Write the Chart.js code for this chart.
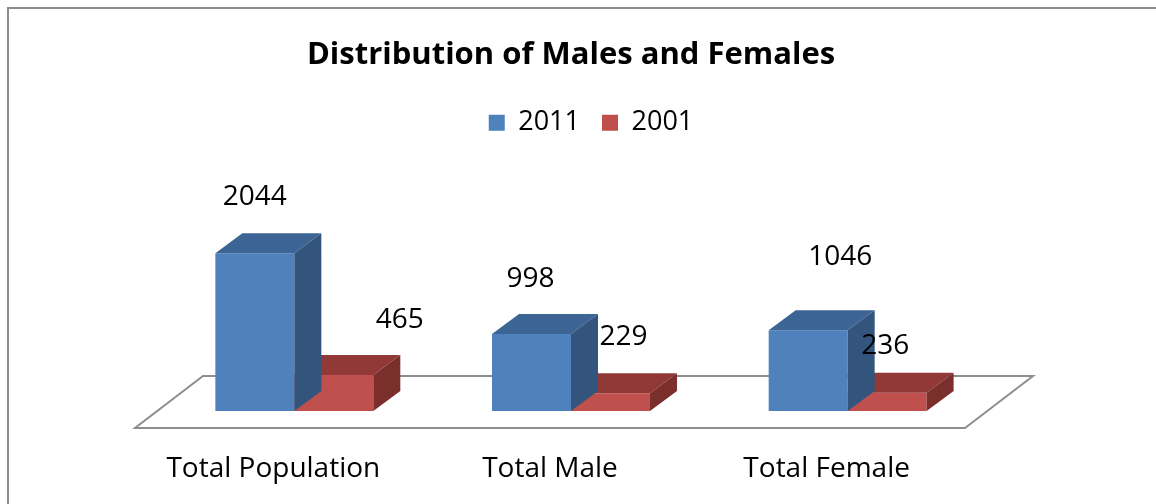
<!DOCTYPE html>
<html>
<head>
<meta charset="utf-8">
<script src="https://cdn.jsdelivr.net/npm/chart.js@4.4.1/dist/chart.umd.min.js"></script>
<style>
  body { margin: 0; background: #fff; }
  #wrap { position: relative; width: 1156px; height: 504px; overflow: hidden; background: #fff; }
  #frame { position: absolute; left: 7px; top: 7px; width: 1300px; height: 700px; border: 2px solid #8c8c8c; }
  #chart { position: absolute; left: 0; top: 0; }
</style>
</head>
<body>
<div id="wrap">
  <div id="frame"></div>
  <canvas id="chart" width="1156" height="504"></canvas>
</div>
<script>
// DATA
var categories = ["Total Population", "Total Male", "Total Female"];
var seriesNames = ["2011", "2001"];
var values2011 = [2044, 998, 1046];
var values2001 = [465, 229, 236];

var frontColors = ["#4F81BD", "#C0504D"];
var topColors = ["#3C6494", "#913937"];
var sideColors = ["#32547D", "#7B2F2D"];

// 3D depth of the boxes, in px
var depthX = 27, depthY = -20;

// where each value label sits, relative to the top centre of its bar front
var labelShift = [
  [[0, -56], [-1, -55], [32, -73]],
  [[66, -55], [13, -56], [-2, -47]]
];

var FONT = "'Open Sans'";

// floor under the bars
var floorPlugin = {
  id: "floor",
  beforeDatasetsDraw: function (chart) {
    var ctx = chart.ctx;
    var area = chart.chartArea;
    var y0 = chart.scales.y.getPixelForValue(0);
    ctx.save();
    ctx.beginPath();
    ctx.moveTo(area.left - 21, y0 + 17);
    ctx.lineTo(area.right - 21, y0 + 17);
    ctx.lineTo(area.right + 47, y0 - 35);
    ctx.lineTo(area.left + 47, y0 - 35);
    ctx.closePath();
    ctx.fillStyle = "#ffffff";
    ctx.fill();
    ctx.lineWidth = 2;
    ctx.strokeStyle = "#8e8e8e";
    ctx.stroke();
    ctx.restore();
  }
};

// top and side faces of each box
var boxPlugin = {
  id: "box3d",
  afterDatasetDraw: function (chart, args) {
    var ctx = chart.ctx;
    var i = args.index;
    var meta = chart.getDatasetMeta(i);
    ctx.save();
    meta.data.forEach(function (bar) {
      var p = bar.getProps(["x", "y", "base", "width"], true);
      var l = p.x - p.width / 2, r = p.x + p.width / 2;
      ctx.fillStyle = topColors[i];
      ctx.beginPath();
      ctx.moveTo(l, p.y);
      ctx.lineTo(l + depthX, p.y + depthY);
      ctx.lineTo(r + depthX, p.y + depthY);
      ctx.lineTo(r, p.y);
      ctx.closePath();
      ctx.fill();
      ctx.fillStyle = sideColors[i];
      ctx.beginPath();
      ctx.moveTo(r, p.y);
      ctx.lineTo(r + depthX, p.y + depthY);
      ctx.lineTo(r + depthX, p.base + depthY);
      ctx.lineTo(r, p.base);
      ctx.closePath();
      ctx.fill();
    });
    ctx.restore();
  }
};

// value labels
var valuePlugin = {
  id: "values",
  afterDraw: function (chart) {
    var ctx = chart.ctx;
    ctx.save();
    ctx.font = "28px " + FONT;
    ctx.fillStyle = "#000";
    ctx.textAlign = "center";
    ctx.textBaseline = "middle";
    chart.data.datasets.forEach(function (ds, i) {
      chart.getDatasetMeta(i).data.forEach(function (bar, j) {
        var s = labelShift[i][j];
        ctx.fillText(String(ds.data[j]), bar.x + s[0], bar.y + s[1]);
      });
    });
    ctx.restore();
  }
};

var hiddenAxis = function (pos, w) {
  return {
    position: pos,
    display: true,
    min: 0,
    max: 3432,
    ticks: { display: false },
    grid: { display: false },
    border: { display: false },
    afterFit: function (scale) { scale.width = w; }
  };
};

var ctx = document.getElementById("chart").getContext("2d");
var myChart = new Chart(ctx, {
  type: "bar",
  data: {
    labels: categories,
    datasets: [
      {
        label: seriesNames[0],
        data: values2011,
        backgroundColor: frontColors[0],
        borderWidth: 0,
        barPercentage: 1,
        categoryPercentage: 0.571,
        yAxisID: "y"
      },
      {
        label: seriesNames[1],
        data: values2001,
        backgroundColor: frontColors[1],
        borderWidth: 0,
        barPercentage: 1,
        categoryPercentage: 0.571,
        yAxisID: "y"
      }
    ]
  },
  options: {
    responsive: false,
    animation: false,
    layout: {
      padding: { left: 36, right: 10, top: 0, bottom: 0 }
    },
    plugins: {
      title: {
        display: true,
        text: "Distribution of Males and Females",
        fullSize: false,
        color: "#000",
        font: { family: FONT, size: 31, weight: "bold" },
        padding: { top: 37, bottom: 13 }
      },
      legend: {
        display: true,
        position: "top",
        fullSize: true,
        labels: {
          color: "#000",
          font: { family: FONT, size: 27 },
          boxWidth: 16,
          boxHeight: 16,
          padding: 22
        }
      },
      tooltip: { enabled: false }
    },
    scales: {
      x: {
        grid: { display: false, drawTicks: false },
        border: { display: false },
        ticks: {
          color: "#000",
          font: { family: FONT, size: 28 },
          padding: 41,
          labelOffset: -21,
          maxRotation: 0
        },
        afterFit: function (scale) { scale.height = 93; }
      },
      y: hiddenAxis("left", 120),
      y2: hiddenAxis("right", 160)
    }
  },
  plugins: [floorPlugin, boxPlugin, valuePlugin]
});
</script>
</body>
</html>
